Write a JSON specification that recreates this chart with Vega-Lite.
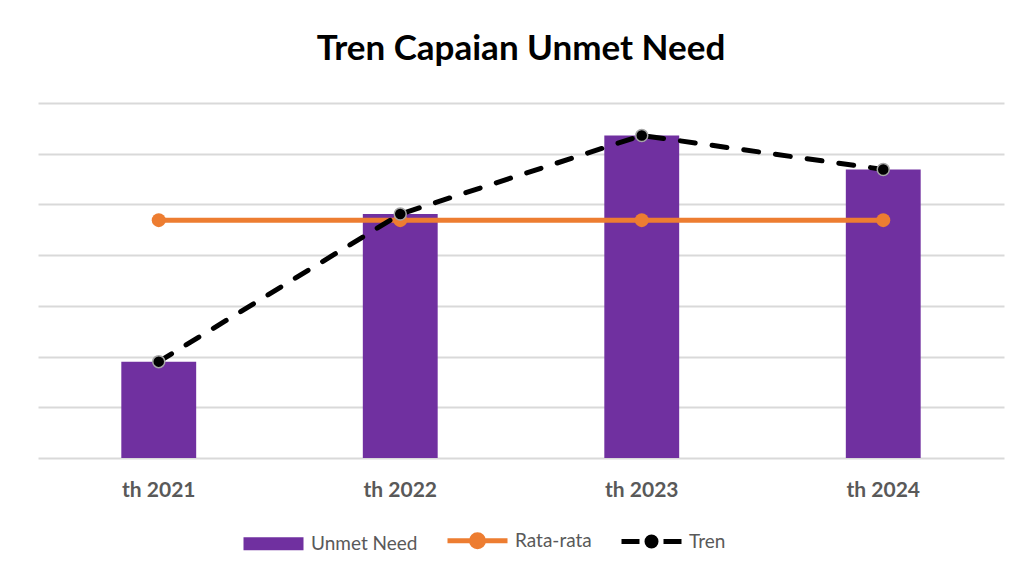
{
  "$schema": "https://vega.github.io/schema/vega-lite/v6.json",
  "autosize": "none",
  "width": 966,
  "height": 355,
  "padding": {"left": 38, "top": 103, "right": 23, "bottom": 120},
  "background": "white",
  "title": {
    "text": "Tren Capaian Unmet Need",
    "font": "Lato",
    "fontSize": 35,
    "fontWeight": "bold",
    "color": "#000000",
    "anchor": "middle",
    "baseline": "alphabetic",
    "offset": 8
  },
  "data": {
    "values": [
      {"year": "th 2021", "unmet": 1.90, "avg": 4.69, "tren": 1.90},
      {"year": "th 2022", "unmet": 4.81, "avg": 4.69, "tren": 4.81},
      {"year": "th 2023", "unmet": 6.36, "avg": 4.69, "tren": 6.36},
      {"year": "th 2024", "unmet": 5.69, "avg": 4.69, "tren": 5.69}
    ]
  },
  "encoding": {
    "x": {
      "field": "year",
      "type": "nominal",
      "sort": null,
      "scale": {"paddingInner": 0.69, "paddingOuter": 0.345},
      "axis": {
        "title": null,
        "ticks": false,
        "domain": false,
        "labelAngle": 0,
        "labelFont": "Lato",
        "labelFontSize": 21,
        "labelFontWeight": "bold",
        "labelColor": "#595959",
        "labelPadding": 21,
        "grid": false
      }
    }
  },
  "layer": [
    {
      "mark": {"type": "bar", "color": "#7030A0"},
      "encoding": {
        "y": {
          "field": "unmet",
          "type": "quantitative",
          "scale": {"domain": [0, 7], "nice": false},
          "axis": {
            "title": null,
            "values": [0, 1, 2, 3, 4, 5, 6, 7],
            "labels": false,
            "ticks": false,
            "domain": false,
            "grid": true,
            "gridColor": "#d9d9d9",
            "gridWidth": 2
          }
        },
        "color": {
          "datum": "Unmet Need",
          "scale": {
            "domain": ["Unmet Need", "Rata-rata", "Tren"],
            "range": ["#7030A0", "#ED7D31", "#000000"]
          },
          "legend": {
            "title": null,
            "orient": "none",
            "direction": "horizontal",
            "legendX": 226,
            "legendY": 428,
            "symbolSize": 3600,
            "labelFont": "Lato",
            "labelFontSize": 19,
            "labelColor": "#595959",
            "labelOffset": 28,
            "columnPadding": 19,
            "encode": {
              "symbols": {
                "update": {
                  "shape": {"signal": "datum.value === 'Unmet Need' ? 'M-1,-0.22H1V0.22H-1Z' : (datum.value === 'Rata-rata' ? 'M-1,0H1M-0.2,0A0.2,0.2 0 1,0 0.2,0A0.2,0.2 0 1,0 -0.2,0Z' : 'M-1,0H-0.4M0.4,0H1M-0.15,0A0.15,0.15 0 1,0 0.15,0A0.15,0.15 0 1,0 -0.15,0Z')"},
                  "fill": {"signal": "datum.value === 'Unmet Need' ? '#7030A0' : (datum.value === 'Rata-rata' ? '#ED7D31' : '#000000')"},
                  "stroke": {"signal": "datum.value === 'Unmet Need' ? '#7030A0' : (datum.value === 'Rata-rata' ? '#ED7D31' : '#000000')"},
                  "strokeWidth": {"signal": "datum.value === 'Unmet Need' ? 0 : 5"},
                  "opacity": {"value": 1},
                  "fillOpacity": {"value": 1},
                  "strokeOpacity": {"value": 1}
                }
              }
            }
          }
        }
      }
    },
    {
      "mark": {"type": "line", "color": "#ED7D31", "strokeWidth": 5},
      "encoding": {"y": {"field": "avg", "type": "quantitative"}}
    },
    {
      "mark": {"type": "point", "filled": true, "shape": "circle", "color": "#ED7D31", "size": 196, "opacity": 1},
      "encoding": {"y": {"field": "avg", "type": "quantitative"}}
    },
    {
      "mark": {"type": "line", "color": "#000000", "strokeWidth": 5, "strokeDash": [15, 17], "strokeCap": "round"},
      "encoding": {"y": {"field": "tren", "type": "quantitative"}}
    },
    {
      "mark": {"type": "point", "filled": true, "shape": "circle", "fill": "#000000", "stroke": "#a6a6a6", "strokeWidth": 1.5, "size": 144, "opacity": 1},
      "encoding": {"y": {"field": "tren", "type": "quantitative"}}
    }
  ],
  "config": {
    "view": {"stroke": null}
  }
}
